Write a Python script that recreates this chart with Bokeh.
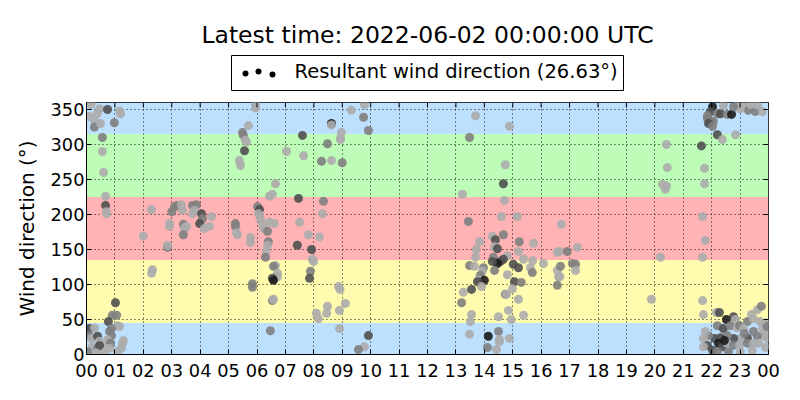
from bokeh.plotting import figure
from bokeh.layouts import column
from bokeh.models import ColumnDataSource, FixedTicker, LinearColorMapper, Range1d
from bokeh.core.properties import value
from bokeh.embed import file_html
from bokeh.resources import INLINE

# ---------------- data ----------------
title_text = "Latest time: 2022-06-02 00:00:00 UTC"
legend_text = "Resultant wind direction (26.63°)"
y_label = "Wind direction (°)"

hour_ticks = list(range(25))
hour_labels = ["00", "01", "02", "03", "04", "05", "06", "07", "08", "09", "10", "11",
               "12", "13", "14", "15", "16", "17", "18", "19", "20", "21", "22", "23", "00"]
dir_ticks = [0, 50, 100, 150, 200, 250, 300, 350]

band_lo = [0, 45, 135, 225, 315]
band_hi = [45, 135, 225, 315, 360]
band_colors = ["#bde0fe", "#fffcb0", "#ffb3b4", "#bdfdb8", "#bde0fe"]

# wind observations: hour of day, direction (deg), wind speed (m/s, shading)
hours = [
    0.16, 0.46, 0.38, 0.28, 0.28, 0.49, 0.74, 0.98, 1.20, 1.16, 0.10, 0.56, 0.56, 0.60, 0.67, 0.67, 0.70, 0.70,
    1.02, 1.06, 0.91, 0.77, 1.09, 1.16, 0.88, 0.81, 0.88, 0.74, 0.84, 0.81, 1.27, 1.23, 1.30, 1.09, 0.10, 0.28,
    0.10, 0.18, 0.39, 0.46, 0.21, 0.39, 0.56, 0.04, 0.63, 0.46, 0.35,
    2.29, 2.00, 2.32, 2.29, 2.85, 2.85, 2.92, 2.92, 3.00, 3.10, 3.20, 3.34, 3.38, 3.41, 3.45, 3.41, 3.52, 3.73,
    3.87, 3.80, 3.73, 4.05, 4.08, 3.98, 4.15, 4.33, 4.40,
    5.95, 5.95, 5.70, 5.49, 5.52, 5.59, 5.63, 5.56, 5.38, 5.42, 6.65, 6.54, 6.44, 6.02, 6.09, 6.05, 6.12, 6.19,
    6.23, 6.37, 6.44, 6.61, 6.40, 6.37, 6.33, 6.30, 5.77, 5.77, 5.24, 5.24, 5.31, 5.28, 6.65, 6.58, 6.72, 6.72,
    6.54, 6.58, 5.84, 5.84, 6.54, 6.58, 6.47,
    7.60, 7.64, 7.04, 7.46, 7.50, 7.42, 7.81, 7.92, 7.95, 7.99, 7.88, 7.85, 8.09, 8.16, 8.34, 8.30, 8.20, 8.48,
    8.27, 8.62, 8.94, 8.62, 8.62, 8.48, 8.45, 8.87, 8.92, 8.90, 8.90, 9.11,
    9.78, 9.32, 9.75, 9.92, 8.97, 8.94, 9.00, 9.92, 9.78, 9.57,
    13.23, 13.26, 13.20, 13.69, 14.88, 13.48, 14.74, 14.67, 14.71, 13.44, 14.60, 15.16, 16.71, 14.28, 14.39,
    14.67, 13.83, 15.23, 15.73, 13.72, 14.36, 14.46, 15.20, 14.81, 14.32, 13.69, 14.67, 14.57, 14.46, 14.28,
    15.02, 15.38, 15.70, 16.08, 16.57, 16.64, 16.92, 17.28, 13.48, 13.65, 14.36, 15.20, 15.62, 15.69, 14.81,
    13.97, 13.93, 13.86, 13.79, 14.00, 13.76, 13.90, 13.55,
    16.57, 16.68, 16.61, 16.66, 16.57, 17.10, 17.21, 17.21, 15.06, 15.30, 14.99, 14.74, 14.78, 15.20, 14.85,
    14.50, 14.95, 15.38, 13.55, 13.51, 13.48, 14.14, 14.50, 14.53, 14.53, 14.88, 14.11, 14.43,
    22.03, 21.96, 21.85, 22.20, 22.31, 21.96, 22.06, 21.85, 21.89, 22.03, 22.41, 22.55, 22.70, 22.90, 23.12,
    23.29, 23.54, 23.79, 23.61, 23.36, 23.01, 22.77, 22.20, 22.38, 22.84,
    21.64, 20.41, 20.44, 21.75, 20.27, 20.41, 20.37, 21.75, 21.68, 21.78, 20.20, 21.68, 19.88, 21.68, 21.71,
    22.17, 22.27, 22.52, 22.77, 22.84, 22.20, 22.41, 22.66, 22.90, 22.98, 23.26, 23.47, 23.61, 23.75, 23.40,
    23.12, 23.47, 23.79, 23.89, 23.82, 23.96, 23.61, 23.26, 23.01, 22.77, 22.55, 22.31, 22.10, 21.89, 21.71,
    21.85, 22.24, 22.38, 22.55, 22.77, 22.98, 23.26, 23.47, 23.65, 22.03, 22.20, 22.59, 23.01, 23.43, 21.71,
    21.78, 23.90, 23.95, 23.70, 23.15, 22.45, 23.90,
]
directions = [
    357, 351, 344, 334, 325, 330, 350, 331, 344, 348, 340, 310, 290, 260, 226, 213, 201, 204,
    74, 56, 56, 47, 41, 40, 37, 33, 27, 21, 16, 9, 16, 9, 20, 4, 37, 38,
    27, 23, 26, 19, 11, 9, 11, 4, 2, 13, 2,
    207, 169, 121, 116, 153, 156, 187, 183, 204, 211, 213, 214, 206, 186, 180, 171, 183, 213,
    214, 206, 201, 201, 194, 187, 180, 183, 197,
    356, 352, 327, 317, 313, 306, 304, 291, 277, 270, 244, 229, 226, 211, 207, 201, 194, 187,
    180, 176, 189, 187, 161, 156, 147, 139, 167, 160, 187, 183, 171, 174, 127, 126, 116, 111,
    109, 106, 101, 96, 77, 79, 34,
    313, 284, 290, 223, 189, 156, 171, 150, 136, 133, 119, 109, 59, 51, 219, 201, 168, 301,
    276, 277, 309, 330, 328, 69, 59, 97, 93, 63, 37, 73,
    357, 349, 339, 320, 317, 307, 274, 27, 11, 7,
    229, 89, 74, 341, 326, 310, 271, 244, 220, 190, 197, 197, 186, 169, 164,
    171, 161, 161, 159, 150, 154, 151, 147, 141, 139, 139, 136, 133, 130, 133,
    129, 136, 134, 130, 146, 147, 147, 153, 127, 126, 120, 124, 124, 117, 114,
    124, 119, 113, 106, 106, 104, 97, 93,
    120, 126, 111, 111, 99, 130, 129, 120, 104, 103, 94, 86, 86, 79, 63,
    54, 50, 56, 57, 47, 29, 26, 33, 21, 18, 23, 10, 7,
    354, 347, 341, 344, 344, 333, 333, 337, 330, 326, 356, 343, 343, 357, 354,
    349, 347, 347, 356, 357, 351, 354, 314, 307, 314,
    298, 300, 267, 266, 243, 241, 236, 244, 197, 163, 139, 139, 79, 77, 57,
    60, 60, 50, 54, 50, 41, 37, 41, 38, 41, 47, 51, 64, 69, 57,
    37, 33, 37, 33, 27, 23, 26, 23, 23, 23, 27, 24, 23, 27, 23,
    13, 16, 11, 16, 13, 13, 16, 16, 16, 6, 4, 4, 4, 6, 11,
    33, 45, 40, 47, 30, 20, 10,
]
speeds = [
    1.0, 1.0, 1.0, 1.0, 2.5, 1.0, 4.0, 2.5, 1.0, 1.0, 1.0, 2.5, 1.0, 1.0, 1.0, 4.0, 1.0, 1.0,
    4.0, 2.5, 2.5, 4.0, 1.0, 1.0, 2.5, 2.5, 2.5, 1.0, 2.5, 1.0, 1.0, 1.0, 1.0, 1.0, 4.0, 1.0,
    2.5, 1.0, 4.0, 1.0, 1.0, 2.5, 1.0, 2.5, 1.0, 4.0, 1.0,
    1.0, 1.0, 1.0, 1.0, 2.5, 1.0, 1.0, 1.0, 2.5, 2.5, 2.5, 1.0, 1.0, 2.5, 1.0, 2.5, 1.0, 2.5,
    2.5, 1.0, 1.0, 4.0, 2.5, 4.0, 1.0, 1.0, 1.0,
    1.0, 1.0, 1.0, 2.5, 2.5, 1.0, 1.0, 4.0, 1.0, 1.0, 1.0, 1.0, 1.0, 2.5, 4.0, 1.0, 1.0, 1.0,
    1.0, 2.5, 1.0, 1.0, 2.5, 1.0, 1.0, 2.5, 1.0, 1.0, 2.5, 2.5, 1.0, 1.0, 1.0, 2.5, 1.0, 1.0,
    4.0, 5.5, 2.5, 2.5, 2.5, 1.0, 2.5,
    4.0, 1.0, 1.0, 4.0, 1.0, 4.0, 1.0, 4.0, 1.0, 1.0, 2.5, 4.0, 1.0, 1.0, 2.5, 1.0, 1.0, 2.5,
    2.5, 1.0, 1.0, 5.5, 1.0, 1.0, 1.0, 1.0, 1.0, 1.0, 1.0, 1.0,
    1.0, 1.0, 2.5, 2.5, 1.0, 1.0, 2.5, 4.0, 1.0, 2.5,
    1.0, 1.0, 2.5, 1.0, 1.0, 2.5, 1.0, 4.0, 1.0, 2.5, 1.0, 1.0, 1.0, 1.0, 4.0,
    2.5, 1.0, 2.5, 1.0, 1.0, 1.0, 4.0, 1.0, 1.0, 2.5, 1.0, 4.0, 4.0, 5.5, 4.0,
    4.0, 1.0, 1.0, 1.0, 1.0, 1.0, 2.5, 1.0, 2.5, 1.0, 2.5, 4.0, 1.0, 2.5, 1.0,
    2.5, 1.0, 2.5, 1.0, 5.5, 4.0, 1.0, 4.0,
    1.0, 2.5, 1.0, 1.0, 2.5, 2.5, 2.5, 1.0, 4.0, 2.5, 1.0, 2.5, 1.0, 1.0, 1.0,
    1.0, 1.0, 1.0, 1.0, 1.0, 1.0, 5.5, 2.5, 1.0, 1.0, 1.0, 2.5, 1.0,
    5.5, 4.0, 2.5, 2.5, 4.0, 4.0, 2.5, 2.5, 4.0, 2.5, 1.0, 2.5, 5.5, 1.0, 1.0,
    2.5, 2.5, 1.0, 1.0, 1.0, 1.0, 2.5, 4.0, 1.0, 1.0,
    4.0, 1.0, 1.0, 1.0, 1.0, 1.0, 1.0, 1.0, 1.0, 1.0, 1.0, 1.0, 1.0, 1.0, 1.0,
    1.0, 4.0, 5.5, 4.0, 1.0, 2.5, 4.0, 2.5, 1.0, 2.5, 2.5, 1.0, 1.0, 2.5, 1.0,
    1.0, 2.5, 1.0, 1.0, 1.0, 1.0, 2.5, 4.0, 1.0, 4.0, 2.5, 4.0, 4.0, 2.5, 1.0,
    4.0, 5.5, 4.0, 1.0, 2.5, 1.0, 2.5, 1.0, 1.0, 4.0, 2.5, 2.5, 1.0, 1.0, 1.0,
    1.0, 1.0, 2.5, 1.0, 2.5, 5.5, 1.0,
]

# ---------------- layout constants ----------------
FONT = "DejaVu Sans"
W = 784
HEAD_H = 96                  # header (title + legend) height
MAIN_H = 288
ML, MR, MT, MB = 86, 16, 6, 30
FW, FH = W - ML - MR, MAIN_H - MT - MB
TICK = 5                     # inward tick length, px

# ---------------- header: title and legend ----------------
# (its frame is aligned with the main plot's frame, so x maps to canvas pixels)
head = figure(width=W, height=HEAD_H, x_range=Range1d(ML, W - MR), y_range=Range1d(HEAD_H, 0),
              output_backend="svg", toolbar_location=None,
              min_border_left=ML, min_border_right=MR, min_border_top=0, min_border_bottom=0)
head.axis.visible = False
head.grid.visible = False
head.outline_line_color = None
head.background_fill_color = "white"
head.border_fill_color = "white"

frame_mid = ML + FW / 2
head.text(x=[frame_mid], y=[34], text=[title_text], text_align="center",
          text_baseline="alphabetic", text_font=value(FONT), text_font_size="23.5px",
          text_color="black")
head.quad(left=[231], right=[623], top=[55], bottom=[90], fill_color="white",
          line_color="black", line_width=1)
head.scatter(x=[245, 258, 272], y=[73, 71, 74], size=6, marker="circle",
             fill_color="black", line_color=None)
head.text(x=[294], y=[71], text=[legend_text], text_align="left",
          text_baseline="alphabetic", text_font=value(FONT), text_font_size="19.5px",
          text_color="black")

# ---------------- main plot ----------------
p = figure(width=W, height=MAIN_H, x_range=Range1d(hour_ticks[0], hour_ticks[-1]),
           y_range=Range1d(0, 360), output_backend="svg", toolbar_location=None,
           min_border_left=ML, min_border_right=MR, min_border_top=MT, min_border_bottom=MB)
p.background_fill_color = "white"
p.border_fill_color = "white"
p.outline_line_color = "black"
p.outline_line_width = 1

x0, x1 = hour_ticks[0], hour_ticks[-1]
y0, y1 = 0, 360

# direction bands
band_src = ColumnDataSource(dict(bottom=band_lo, top=band_hi, color=band_colors,
                                 left=[x0] * len(band_lo), right=[x1] * len(band_lo)))
p.quad(left="left", right="right", bottom="bottom", top="top", color="color",
       source=band_src, line_color=None, level="image")

# grid
for g, t in ((p.xgrid, hour_ticks), (p.ygrid, dir_ticks)):
    g.ticker = FixedTicker(ticks=t)
    g.grid_line_color = "black"
    g.grid_line_dash = "1 3"
    g.grid_line_width = 1
    g.grid_line_alpha = 0.9

# points (grey shade by wind speed)
greys = ["#%02x%02x%02x" % (v, v, v) for v in range(0xac, -1, -4)]
mapper = LinearColorMapper(palette=greys, low=1.0, high=6.5)
src = ColumnDataSource(dict(h=hours, d=directions, s=speeds))
p.scatter("h", "d", source=src, size=9, marker="circle",
          fill_color={"field": "s", "transform": mapper}, line_color=None, fill_alpha=0.9)

# inward ticks on the top and right edges
ty = TICK * (y1 - y0) / FH
tx = TICK * (x1 - x0) / FW
p.segment(x0=hour_ticks, y0=[y1] * len(hour_ticks), x1=hour_ticks,
          y1=[y1 - ty] * len(hour_ticks), line_color="black", line_width=1)
p.segment(x0=[x1] * len(dir_ticks), y0=dir_ticks, x1=[x1 - tx] * len(dir_ticks),
          y1=dir_ticks, line_color="black", line_width=1)

# axes
for ax in (p.xaxis[0], p.yaxis[0]):
    ax.major_tick_in = TICK
    ax.major_tick_out = 0
    ax.minor_tick_in = 0
    ax.minor_tick_out = 0
    ax.major_tick_line_color = "black"
    ax.axis_line_color = "black"
    ax.major_label_text_font = FONT
    ax.major_label_text_font_size = "17.8px"
    ax.major_label_text_color = "black"

xa = p.xaxis[0]
xa.ticker = FixedTicker(ticks=hour_ticks)
xa.major_label_overrides = {t: l for t, l in zip(hour_ticks, hour_labels)}
xa.major_label_standoff = 9

ya = p.yaxis[0]
ya.ticker = FixedTicker(ticks=dir_ticks)
ya.major_label_standoff = 2
ya.axis_label = y_label
ya.axis_label_text_font = FONT
ya.axis_label_text_font_size = "20px"
ya.axis_label_text_font_style = "normal"
ya.axis_label_text_color = "black"
ya.axis_label_standoff = 9

layout = column(head, p, spacing=0)
open("out.html", "w").write(file_html(layout, INLINE))
